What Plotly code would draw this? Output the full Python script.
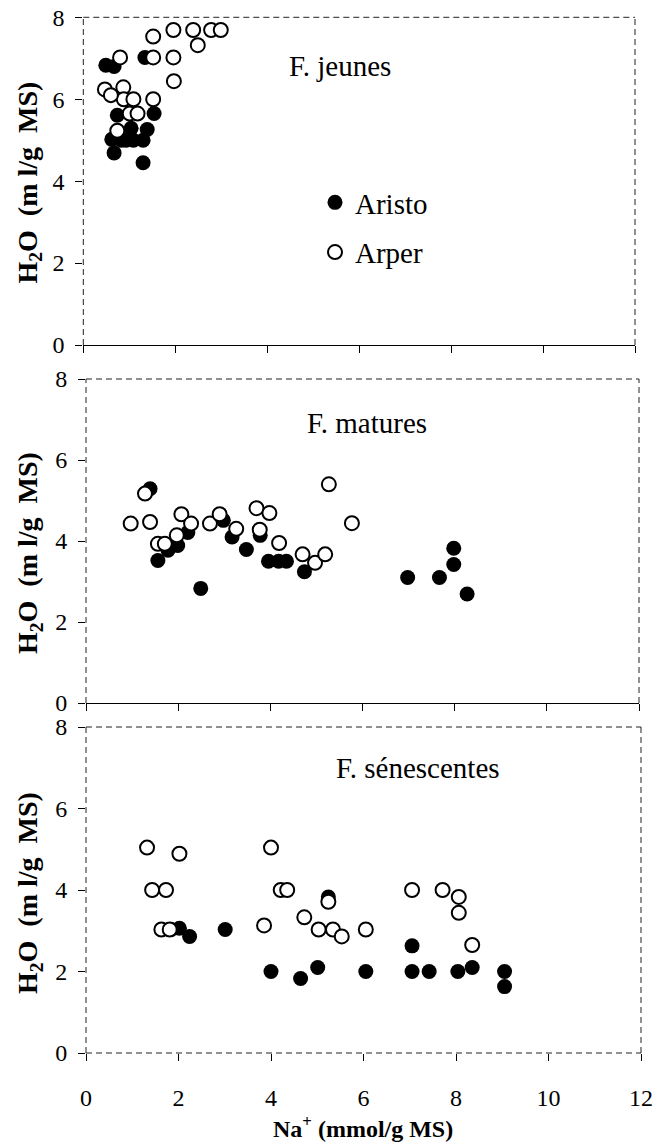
import plotly.graph_objects as go

# ---------------- data ----------------
# F. jeunes (young leaves)
jeunes_aristo_x = [0.49, 0.67, 1.34, 0.74, 0.67, 0.62, 0.83, 1.04, 1.09, 1.30, 1.39, 1.30, 1.54, 0.93]
jeunes_aristo_y = [6.83, 6.80, 7.02, 5.61, 4.69, 5.02, 5.00, 5.29, 5.00, 5.00, 5.26, 4.45, 5.65, 5.00]
jeunes_arper_x = [0.47, 0.80, 0.87, 0.88, 1.09, 1.01, 1.18, 0.74, 0.60, 1.52, 1.52, 1.52, 1.96, 1.96, 1.97, 2.39, 2.49, 2.78, 2.99]
jeunes_arper_y = [6.24, 7.02, 6.29, 6.00, 6.00, 5.65, 5.65, 5.23, 6.10, 7.53, 7.02, 6.00, 7.69, 7.02, 6.44, 7.69, 7.32, 7.69, 7.69]

# F. matures (mature leaves)
matures_aristo_x = [1.39, 1.56, 1.78, 1.99, 2.21, 2.49, 2.98, 3.17, 3.48, 3.78, 3.96, 4.18, 4.35, 4.74, 6.98, 7.67, 7.98, 7.98, 8.27]
matures_aristo_y = [5.29, 3.52, 3.77, 3.89, 4.21, 2.83, 4.51, 4.10, 3.79, 4.14, 3.50, 3.50, 3.50, 3.24, 3.10, 3.10, 3.82, 3.42, 2.69]
matures_arper_x = [0.97, 1.28, 1.39, 1.56, 1.71, 1.97, 2.07, 2.28, 2.69, 2.90, 3.26, 3.70, 3.98, 3.77, 4.19, 4.70, 4.97, 5.19, 5.27, 5.77]
matures_arper_y = [4.43, 5.17, 4.47, 3.93, 3.93, 4.14, 4.66, 4.43, 4.43, 4.66, 4.30, 4.81, 4.69, 4.28, 3.95, 3.67, 3.46, 3.67, 5.40, 4.44]

# F. sénescentes (senescent leaves)
senes_aristo_x = [1.84, 2.02, 2.24, 3.01, 4.00, 4.64, 5.01, 5.24, 6.05, 7.05, 7.05, 7.42, 8.04, 8.35, 9.05, 9.05]
senes_aristo_y = [3.03, 3.06, 2.86, 3.03, 2.00, 1.83, 2.10, 3.83, 2.00, 2.63, 2.00, 2.00, 2.00, 2.10, 2.00, 1.63]
senes_arper_x = [1.32, 1.43, 1.73, 2.02, 1.63, 1.81, 4.00, 3.85, 4.21, 4.35, 4.72, 5.03, 5.24, 5.34, 5.53, 6.05, 7.05, 7.71, 8.06, 8.06, 8.35]
senes_arper_y = [5.04, 4.00, 4.00, 4.89, 3.03, 3.03, 5.04, 3.13, 4.00, 4.00, 3.33, 3.03, 3.71, 3.03, 2.86, 3.03, 4.00, 4.00, 3.83, 3.44, 2.65]

panel_titles = ["F. jeunes", "F. matures", "F. sénescentes"]
x_ticks = [0, 2, 4, 6, 8, 10, 12]
y_ticks = [0, 2, 4, 6, 8]
series_names = ["Aristo", "Arper"]

FONT = "Liberation Serif"
W, H = 658, 1148
OFF = 0  # page body margin removed by post_script

panels = [
    (jeunes_aristo_x, jeunes_aristo_y, jeunes_arper_x, jeunes_arper_y),
    (matures_aristo_x, matures_aristo_y, matures_arper_x, matures_arper_y),
    (senes_aristo_x, senes_aristo_y, senes_arper_x, senes_arper_y),
]

# screen pixel boxes of the three plot areas (left, right, top, bottom)
boxes = [(83.3, 635, 17.3, 345), (86, 639, 379, 703), (86, 641, 727, 1053)]


def px(v):
    return (v - OFF) / W


def py(v):
    return 1 - (v - OFF) / H


fig = go.Figure()
for i, (ax, ay, bx, by) in enumerate(panels):
    xa = "x" if i == 0 else f"x{i+1}"
    ya = "y" if i == 0 else f"y{i+1}"
    fig.add_trace(go.Scatter(
        x=ax, y=ay, mode="markers", name=series_names[0], xaxis=xa, yaxis=ya,
        showlegend=(i == 0), legendgroup="a",
        marker=dict(size=15, color="black", line=dict(width=0))))
    fig.add_trace(go.Scatter(
        x=bx, y=by, mode="markers", name=series_names[1], xaxis=xa, yaxis=ya,
        showlegend=(i == 0), legendgroup="b",
        marker=dict(size=14, color="white", line=dict(width=2, color="black"))))

layout = dict(
    template="none",
    width=W, height=H, margin=dict(l=0, r=0, t=0, b=0, autoexpand=False),
    paper_bgcolor="white", plot_bgcolor="white",
    font=dict(family=FONT, color="black", size=24),
    showlegend=True,
    legend=dict(x=px(315), y=py(177), xanchor="left", yanchor="top",
                font=dict(size=29, family=FONT, color="black"), bgcolor="rgba(0,0,0,0)",
                borderwidth=0, tracegroupgap=9, itemsizing="trace"),
)

shapes = []
annotations = []
title_y_centres = [182.5, 553, 893]
label_pos = [(5.58, 6.8), (6.1, 6.92), (7.18, 7.0)]
NB = "\u00a0"
ytitle = f"<b>H<sub>2</sub>O{NB}{NB}(m{NB}l/g{NB}{NB}MS)</b>"
for i, (l, r, t, b) in enumerate(boxes):
    sfx = "" if i == 0 else str(i + 1)
    xname, yname = "xaxis" + sfx, "yaxis" + sfx
    layout[xname] = dict(
        domain=[px(l), px(r)], range=[0, 12], anchor="y" + sfx, automargin=False,
        tickvals=x_ticks, ticks="outside", ticklen=7, tickcolor="black", tickwidth=1,
        showticklabels=(i == 2), showgrid=False, zeroline=False,
        showline=(i < 2), linecolor="black", linewidth=1, ticklabeloverflow="allow",
        tickfont=dict(size=24, family=FONT, color="black"), ticklabelstandoff=16,
    )
    layout[yname] = dict(
        domain=[py(b), py(t)], range=[0, 8], anchor="x" + sfx, automargin=False,
        tickvals=y_ticks, ticks="outside", ticklen=7, tickcolor="black", tickwidth=1,
        showgrid=False, zeroline=False, showline=False, ticklabeloverflow="allow",
        tickfont=dict(size=24, family=FONT, color="black"), ticklabelstandoff=6,
    )
    dxr, dyr = "x" + sfx + " domain", "y" + sfx + " domain"
    edges = [(0, 0, 0, 1), (0, 1, 1, 1), (1, 0, 1, 1)]
    if i == 2:
        edges.append((0, 0, 1, 0))
    for (x0, y0, x1, y1) in edges:
        shapes.append(dict(type="line", xref=dxr, yref=dyr, x0=x0, y0=y0, x1=x1, y1=y1,
                           line=dict(color="#222222", width=1, dash="6px,4px")))
    annotations.append(dict(
        text=panel_titles[i], xref="x" + sfx, yref="y" + sfx,
        x=label_pos[i][0], y=label_pos[i][1], showarrow=False,
        font=dict(size=29, family=FONT, color="black"), xanchor="center", yanchor="middle"))
    annotations.append(dict(
        text=ytitle, xref="paper", yref="paper",
        x=px(29), y=py(title_y_centres[i]), textangle=-90, showarrow=False,
        font=dict(size=28, family=FONT, color="black"), xanchor="center", yanchor="middle"))

annotations.append(dict(
    text="<b>Na<sup>+</sup> (mmol/g MS)</b>", xref="x3 domain", yref="paper",
    x=0.5, y=py(1127), showarrow=False, font=dict(size=24, family=FONT, color="black"),
    xanchor="center", yanchor="middle"))

layout["shapes"] = shapes
layout["annotations"] = annotations
fig.update_layout(**layout)
fig.write_html(
    "out.html",
    config={"displayModeBar": False},
    post_script="document.body.style.margin='0px';document.body.style.overflow='hidden';",
)
